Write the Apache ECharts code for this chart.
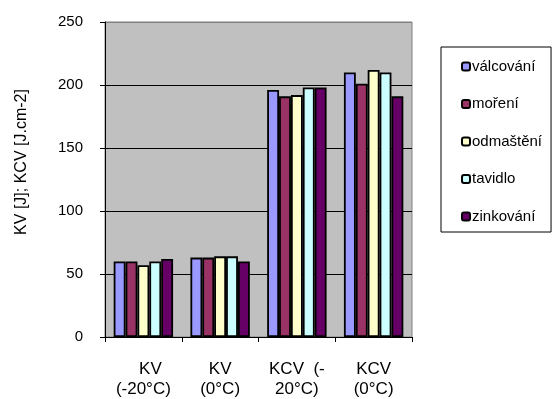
<!DOCTYPE html>
<html>
<head>
<meta charset="utf-8">
<script src="https://cdn.jsdelivr.net/npm/echarts@6/dist/echarts.min.js"></script>
<style>
  html, body { margin: 0; padding: 0; background: #fff; }
  #chart { width: 553px; height: 399px; }
</style>
</head>
<body>
<div id="chart"></div>
<script>
// Test categories (labels wrapped as printed under each group)
const categories = ['   KV\n(-20°C)', 'KV\n(0°C)', 'KCV  (-\n20°C)', 'KCV\n(0°C)'];

// Impact values per surface treatment stage
const valcovani = [60, 63, 196, 210];
const moreni    = [60, 63, 191, 201];
const odmasteni = [57, 64, 192, 212];
const tavidlo   = [60, 64, 198, 210];
const zinkovani = [62, 60, 198, 191];

const seriesNames = ['válcování', 'moření', 'odmaštění', 'tavidlo', 'zinkování'];
const seriesColors = ['#9999FF', '#993366', '#FFFFCC', '#CCFFFF', '#660066'];
const seriesValues = [valcovani, moreni, odmasteni, tavidlo, zinkovani];

const yTicks = { min: 0, max: 250, interval: 50 };
const yTitle = 'KV [J]; KCV [J.cm-2]';

const FONT = '"Liberation Sans", Arial, sans-serif';

const chart = echarts.init(document.getElementById('chart'), null, { renderer: 'canvas' });

chart.setOption({
  animation: false,
  backgroundColor: '#ffffff',
  textStyle: { fontFamily: FONT, color: '#000' },
  grid: {
    left: 105, right: 141, top: 22, bottom: 61,
    show: true,
    backgroundColor: '#c0c0c0',
    borderColor: '#808080',
    borderWidth: 1
  },
  legend: {
    orient: 'vertical',
    left: 441,
    top: 47,
    padding: [12, 9, 8, 20],
    itemGap: 22.5,
    itemWidth: 8,
    itemHeight: 8,
    borderColor: '#000',
    borderWidth: 1,
    backgroundColor: '#fff',
    textStyle: { fontFamily: FONT, fontSize: 15, color: '#000', lineHeight: 15, padding: [0, 0, 0, -3] },
    data: seriesNames
  },
  xAxis: {
    type: 'category',
    data: categories,
    axisLine: { lineStyle: { color: '#000', width: 1 } },
    axisTick: { show: true, length: 5, interval: 0, alignWithLabel: false, lineStyle: { color: '#000' } },
    axisLabel: {
      interval: 0,
      margin: 22,
      fontFamily: FONT,
      fontSize: 17,
      lineHeight: 20,
      color: '#000'
    },
    splitLine: { show: false }
  },
  yAxis: {
    type: 'value',
    min: yTicks.min,
    max: yTicks.max,
    interval: yTicks.interval,
    axisLine: { show: true, lineStyle: { color: '#000', width: 1 } },
    axisTick: { show: true, length: 5, lineStyle: { color: '#000' } },
    axisLabel: { margin: 22, fontFamily: FONT, fontSize: 15, color: '#000' },
    splitLine: {
      show: true,
      lineStyle: { color: ['#000', '#000', '#000', '#000', '#000', '#808080'], width: 1 }
    }
  },
  graphic: [{
    type: 'text',
    x: 22,
    y: 162,
    rotation: Math.PI / 2,
    style: {
      text: yTitle,
      font: '16px ' + FONT,
      fill: '#000',
      textAlign: 'center',
      textVerticalAlign: 'middle'
    }
  }],
  series: seriesNames.map((name, i) => ({
    name: name,
    type: 'bar',
    data: seriesValues[i],
    barGap: '0%',
    barCategoryGap: '22.6%',
    itemStyle: { color: seriesColors[i], borderColor: '#000', borderWidth: 1.8 }
  }))
});
</script>
</body>
</html>
